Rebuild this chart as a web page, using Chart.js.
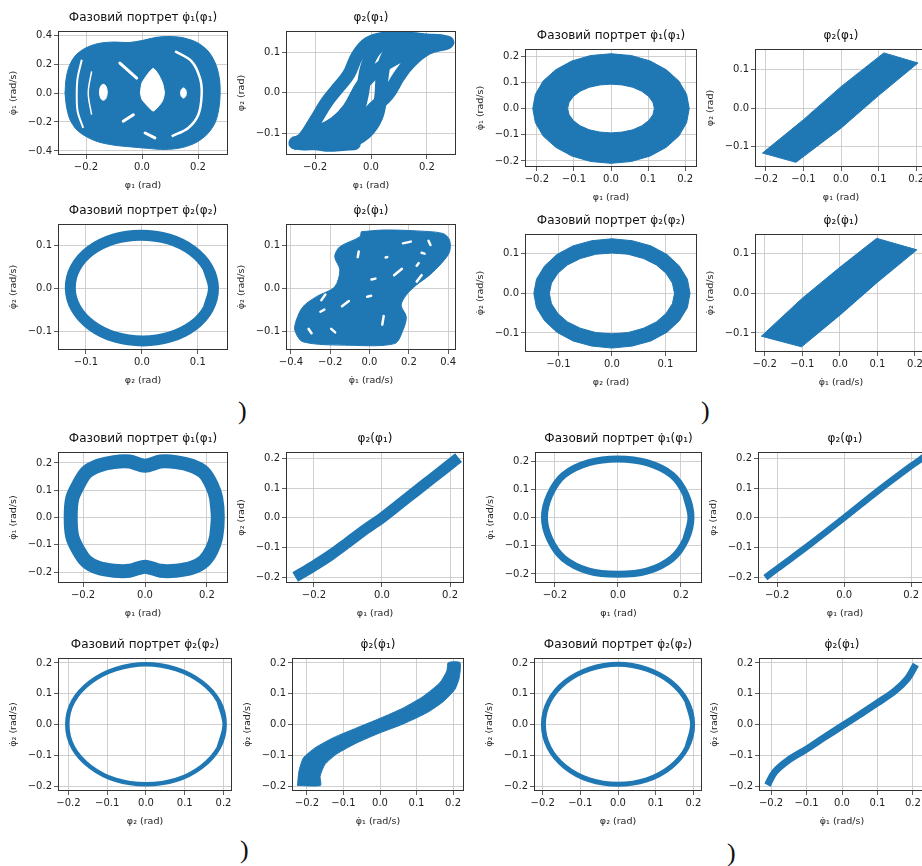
<!DOCTYPE html>
<html>
<head>
<meta charset="utf-8">
<script src="https://cdn.jsdelivr.net/npm/chart.js@4.4.1/dist/chart.umd.min.js"></script>
<style>
  html, body { margin: 0; padding: 0; background: #fff; width: 922px; height: 866px; overflow: hidden; position: relative; }
  canvas { position: absolute; }
  .tag { position: absolute; font-family: "Liberation Serif", serif; font-size: 26px; line-height: 1; color: #111; }
</style>
</head>
<body>
<div class="tag" style="left:238px;top:398px">)</div>
<div class="tag" style="left:701px;top:398px">)</div>
<div class="tag" style="left:240px;top:837px">)</div>
<div class="tag" style="left:727px;top:840px">)</div>
<script>
Chart.defaults.font.family = '"DejaVu Sans", sans-serif';
const BLUE = '#1f77b4';
const WHITE = '#ffffff';

// tick values
const ticksWide = [-0.4, -0.2, 0, 0.2, 0.4];
const ticksTwo = [-0.2, 0, 0.2];
const ticksFive = [-0.2, -0.1, 0, 0.1, 0.2];
const ticksTenth = [-0.1, 0, 0.1];

// titles and axis labels
const titlePortrait1 = 'Фазовий портрет φ\u0307\u2081(φ\u2081)';
const titlePortrait2 = 'Фазовий портрет φ\u0307\u2082(φ\u2082)';
const titleAngles = 'φ\u2082(φ\u2081)';
const titleRates = 'φ\u0307\u2082(φ\u0307\u2081)';
const labPhi1 = 'φ\u2081 (rad)';
const labPhi2 = 'φ\u2082 (rad)';
const labRate1 = 'φ\u0307\u2081 (rad/s)';
const labRate2 = 'φ\u0307\u2082 (rad/s)';

// ---- panel a: chaotic motion ----
const a1Hull = [[-0.275,0],[-0.271,0.1],[-0.259,0.19],[-0.236,0.262],[-0.2,0.312],[-0.155,0.342],[-0.1,0.352],[-0.05,0.348],[0.0,0.362],[0.05,0.384],[0.1,0.39],[0.15,0.38],[0.2,0.345],[0.24,0.28],[0.265,0.19],[0.277,0.09],[0.279,0],[0.275,-0.1],[0.262,-0.2],[0.235,-0.28],[0.195,-0.34],[0.14,-0.378],[0.08,-0.39],[0.02,-0.382],[-0.04,-0.372],[-0.1,-0.36],[-0.155,-0.338],[-0.2,-0.3],[-0.235,-0.25],[-0.258,-0.18],[-0.27,-0.09],[-0.275,0]];
const a1HoleLeft = [[-0.124,0.005],[-0.126,0.033],[-0.131,0.053],[-0.138,0.06],[-0.145,0.053],[-0.15,0.033],[-0.152,0.005],[-0.15,-0.023],[-0.145,-0.043],[-0.138,-0.05],[-0.131,-0.043],[-0.126,-0.023],[-0.124,0.005]];
const a1HoleRight = [[0.158,0],[0.157,0.018],[0.153,0.03],[0.148,0.035],[0.143,0.03],[0.139,0.018],[0.138,0],[0.139,-0.018],[0.143,-0.03],[0.148,-0.035],[0.153,-0.03],[0.157,-0.018],[0.158,0]];
const a1Lens = [[-0.006,0.0],[0.0,0.07],[0.02,0.13],[0.04,0.17],[0.058,0.13],[0.073,0.07],[0.08,0.0],[0.073,-0.055],[0.058,-0.095],[0.04,-0.125],[0.02,-0.09],[0.0,-0.045],[-0.006,0.0]];
const a1ArcOuter = [[-0.215,0.23],[-0.23,0.103],[-0.233,0],[-0.23,-0.126],[-0.21,-0.241]];
const a1ArcInner = [[-0.18,0.15],[-0.192,0],[-0.18,-0.15]];
const a1ArcRight = [[0.118,0.288],[0.177,0.219],[0.207,0.103],[0.213,-0.012],[0.201,-0.15],[0.165,-0.241],[0.106,-0.299]];
const a1Wedges = [[-0.079,0.207,-0.019,0.103],[-0.067,-0.195,-0.031,-0.15],[0.011,-0.276,0.046,-0.31]];

const a2LumpLow = [[-0.272,-0.124],[-0.24,-0.127],[-0.2,-0.126],[-0.15,-0.13],[-0.1,-0.128],[-0.06,-0.126]];
const a2LumpHigh = [[0.08,0.136],[0.14,0.134],[0.2,0.13],[0.25,0.128],[0.275,0.124]];
const a2Strands = [
  [[-0.27,-0.125],[-0.24,-0.112],[-0.2,-0.07],[-0.16,-0.025],[-0.12,0.01],[-0.08,0.045],[-0.05,0.09],[-0.01,0.122],[0.05,0.135],[0.12,0.138]],
  [[-0.15,-0.128],[-0.09,-0.11],[-0.04,-0.08],[0.0,-0.045],[0.06,-0.005],[0.1,0.04],[0.14,0.075],[0.2,0.108],[0.27,0.122]],
  [[-0.22,-0.12],[-0.15,-0.11],[-0.09,-0.09],[-0.05,-0.05],[-0.03,0.0],[-0.02,0.05],[0.0,0.09],[0.03,0.115],[0.08,0.13]],
  [[-0.08,-0.125],[-0.02,-0.1],[0.02,-0.06],[0.035,-0.01],[0.04,0.04],[0.055,0.085],[0.09,0.115],[0.15,0.13]],
  [[-0.2,-0.1],[-0.13,-0.075],[-0.08,-0.04],[-0.03,0.02],[0.03,0.06],[0.09,0.085],[0.15,0.105],[0.22,0.12]]
];

const a3Ring = [[0.128,0],[0.118,0.047],[0.09,0.087],[0.048,0.114],[-0.002,0.123],[-0.05,0.114],[-0.092,0.087],[-0.119,0.047],[-0.128,0],[-0.118,-0.047],[-0.09,-0.087],[-0.048,-0.114],[0.002,-0.123],[0.05,-0.114],[0.092,-0.087],[0.119,-0.047],[0.128,0]];

const a4Hull = [[-0.042,0.131],[0.069,0.135],[0.238,0.133],[0.373,0.127],[0.407,0.112],[0.407,0.084],[0.365,0.057],[0.305,0.03],[0.238,0.007],[0.187,-0.016],[0.161,-0.04],[0.187,-0.067],[0.17,-0.098],[0.128,-0.129],[-0.1,-0.133],[-0.338,-0.125],[-0.38,-0.098],[-0.372,-0.074],[-0.338,-0.043],[-0.27,-0.02],[-0.177,0.003],[-0.151,0.042],[-0.177,0.073],[-0.151,0.096],[-0.05,0.119],[-0.042,0.131]];
const a4Gaps = [[0.17,0.104,0.21,0.108],[0.3,0.11,0.31,0.1],[0.265,0.082,0.28,0.08],[-0.06,0.072,-0.055,0.085],[0.082,0.071,0.09,0.072],[0.125,0.03,0.165,0.045],[0.24,0.052,0.25,0.058],[0.24,0.015,0.265,0.03],[0.01,0.02,0.03,0.022],[-0.012,-0.02,0.008,-0.018],[-0.14,-0.042,-0.105,-0.03],[-0.245,-0.028,-0.225,-0.015],[-0.25,-0.055,-0.23,-0.05],[0.065,-0.085,0.072,-0.065],[-0.31,-0.095,-0.295,-0.105],[-0.195,-0.095,-0.175,-0.103]];

// ---- panel b: quasi-periodic motion ----
const b1Outer = [[0.211,0],[0.204,0.054],[0.183,0.105],[0.149,0.148],[0.106,0.181],[0.055,0.202],[0,0.209],[-0.055,0.202],[-0.106,0.181],[-0.149,0.148],[-0.183,0.105],[-0.204,0.054],[-0.211,0],[-0.204,-0.054],[-0.183,-0.105],[-0.149,-0.148],[-0.106,-0.181],[-0.055,-0.202],[0,-0.209],[0.055,-0.202],[0.106,-0.181],[0.149,-0.148],[0.183,-0.105],[0.204,-0.054],[0.211,0]];
const b1Inner = [[0.117,0],[0.113,0.024],[0.101,0.047],[0.083,0.066],[0.059,0.081],[0.03,0.09],[0,0.093],[-0.03,0.09],[-0.059,0.081],[-0.083,0.066],[-0.101,0.047],[-0.113,0.024],[-0.117,0],[-0.113,-0.024],[-0.101,-0.047],[-0.083,-0.066],[-0.059,-0.081],[-0.03,-0.09],[0,-0.093],[0.03,-0.09],[0.059,-0.081],[0.083,-0.066],[0.101,-0.047],[0.113,-0.024],[0.117,0]];
const b2Band = [[-0.209,-0.116],[-0.1,-0.03],[0.0,0.055],[0.114,0.142],[0.205,0.116],[0.1,0.032],[0.0,-0.052],[-0.12,-0.14],[-0.209,-0.116]];
const b3Outer = [[0.146,0],[0.141,0.036],[0.126,0.069],[0.103,0.098],[0.073,0.12],[0.038,0.133],[0,0.138],[-0.038,0.133],[-0.073,0.12],[-0.103,0.098],[-0.126,0.069],[-0.141,0.036],[-0.146,0],[-0.141,-0.036],[-0.126,-0.069],[-0.103,-0.098],[-0.073,-0.12],[-0.038,-0.133],[0,-0.138],[0.038,-0.133],[0.073,-0.12],[0.103,-0.098],[0.126,-0.069],[0.141,-0.036],[0.146,0]];
const b3Inner = [[0.117,0],[0.113,0.026],[0.101,0.051],[0.083,0.072],[0.059,0.088],[0.03,0.099],[0,0.102],[-0.03,0.099],[-0.059,0.088],[-0.083,0.072],[-0.101,0.051],[-0.113,0.026],[-0.117,0],[-0.113,-0.026],[-0.101,-0.051],[-0.083,-0.072],[-0.059,-0.088],[-0.03,-0.099],[0,-0.102],[0.03,-0.099],[0.059,-0.088],[0.083,-0.072],[0.101,-0.051],[0.113,-0.026],[0.117,0]];
const b4Band = [[-0.209,-0.108],[-0.1,-0.012],[0.0,0.066],[0.098,0.139],[0.205,0.11],[0.1,0.028],[0.0,-0.055],[-0.102,-0.135],[-0.209,-0.108]];

// ---- panel c ----
const c1Loop = [[0.235,0],[0.23,0.07],[0.215,0.12],[0.19,0.165],[0.15,0.19],[0.1,0.203],[0.05,0.205],[0.0,0.19],[-0.05,0.205],[-0.1,0.203],[-0.15,0.19],[-0.19,0.165],[-0.215,0.12],[-0.235,0.07],[-0.24,0],[-0.235,-0.07],[-0.215,-0.12],[-0.19,-0.16],[-0.15,-0.185],[-0.1,-0.195],[-0.05,-0.195],[0,-0.18],[0.05,-0.195],[0.1,-0.195],[0.15,-0.185],[0.19,-0.16],[0.215,-0.12],[0.23,-0.07],[0.235,0]];
const c2Curve = [[-0.255,-0.2],[-0.2,-0.162],[-0.15,-0.125],[-0.1,-0.083],[-0.05,-0.04],[0,0],[0.05,0.045],[0.1,0.09],[0.15,0.135],[0.2,0.18],[0.225,0.203]];
const c3Ring = [[0.203,0],[0.188,0.075],[0.143,0.138],[0.078,0.18],[0,0.196],[-0.078,0.18],[-0.143,0.138],[-0.188,0.075],[-0.203,0],[-0.188,-0.075],[-0.143,-0.138],[-0.078,-0.18],[0,-0.194],[0.078,-0.18],[0.143,-0.138],[0.188,-0.075],[0.203,0]];
const c4Band = [[-0.226,-0.198],[-0.222,-0.152],[-0.21,-0.109],[-0.178,-0.076],[-0.128,-0.043],[-0.064,-0.011],[0,0.02],[0.064,0.054],[0.119,0.092],[0.164,0.136],[0.183,0.174],[0.187,0.201],[0.219,0.201],[0.217,0.152],[0.205,0.114],[0.173,0.074],[0.128,0.038],[0.064,0.002],[0,-0.027],[-0.064,-0.06],[-0.119,-0.096],[-0.151,-0.13],[-0.164,-0.168],[-0.163,-0.198],[-0.226,-0.198]];

// ---- panel d ----
const d1Loop = [[0.232,0],[0.216,0.08],[0.172,0.15],[0.092,0.194],[0,0.207],[-0.092,0.194],[-0.172,0.15],[-0.216,0.08],[-0.233,0],[-0.216,-0.077],[-0.172,-0.145],[-0.092,-0.19],[0,-0.201],[0.092,-0.19],[0.172,-0.145],[0.216,-0.077],[0.232,0]];
const d2Line = [[-0.235,-0.202],[-0.2,-0.172],[-0.1,-0.088],[0,0],[0.1,0.09],[0.2,0.175],[0.238,0.205]];
const d3Ring = [[0.198,0],[0.183,0.075],[0.14,0.138],[0.076,0.18],[0,0.196],[-0.076,0.18],[-0.14,0.138],[-0.183,0.075],[-0.198,0],[-0.183,-0.075],[-0.14,-0.138],[-0.076,-0.18],[0,-0.194],[0.076,-0.18],[0.14,-0.138],[0.183,-0.075],[0.198,0]];
const d4Curve = [[-0.21,-0.197],[-0.19,-0.155],[-0.15,-0.115],[-0.1,-0.08],[-0.05,-0.042],[0,-0.005],[0.05,0.032],[0.1,0.07],[0.15,0.11],[0.185,0.15],[0.208,0.195]];

// ---- helpers ----
const toXY = pts => pts.map(p => ({ x: p[0], y: p[1] }));
// closed outline: repeat one neighbour on each side so the spline has no corner at the seam
const loop = pts => [pts[pts.length - 2]].concat(pts, [pts[1]]);

function stroke(pts, width, color, tension, cap) {
  return {
    data: toXY(pts), showLine: true, borderColor: color || BLUE, borderWidth: width,
    pointRadius: 0, tension: tension === undefined ? 0.35 : tension,
    borderJoinStyle: 'round', borderCapStyle: cap || 'butt', fill: false
  };
}

function solid(pts, color, tension) {
  return {
    data: toXY(pts), showLine: true, borderColor: color || BLUE, backgroundColor: color || BLUE,
    borderWidth: 1, pointRadius: 0, tension: tension || 0, fill: 'shape'
  };
}

// ring between two closed outlines: outer one way, inner back the other way
const ring = (outer, inner) => outer.concat(inner.slice().reverse(), [outer[0]]);

const dash = (g, w) => stroke([[g[0], g[1]], [g[2], g[3]]], w, WHITE, 0, 'round');

const panels = [
  { box: [58, 31, 228, 155], x: [-0.30, 0.307], y: [-0.428, 0.428], xt: ticksTwo, yt: ticksWide,
    title: titlePortrait1, xl: labPhi1, yl: labRate1,
    sets: [solid(a1Hull, BLUE, 0.3), solid(a1HoleLeft, WHITE, 0.3), solid(a1HoleRight, WHITE, 0.3),
           solid(a1Lens, WHITE, 0.2), stroke(a1ArcOuter, 2, WHITE), stroke(a1ArcInner, 1.5, WHITE),
           stroke(a1ArcRight, 2.5, WHITE)].concat(a1Wedges.map(g => dash(g, 3))) },
  { box: [286, 31, 456, 155], x: [-0.304, 0.304], y: [-0.154, 0.152], xt: ticksTwo, yt: ticksTenth,
    title: titleAngles, xl: labPhi1, yl: labPhi2,
    sets: [stroke(a2LumpLow, 13, BLUE, 0.3, 'round'), stroke(a2LumpHigh, 13, BLUE, 0.3, 'round')]
          .concat(a2Strands.map(s => stroke(s, 13, BLUE, 0.4, 'round'))) },
  { box: [58, 224, 228, 350], x: [-0.15, 0.154], y: [-0.144, 0.149], xt: ticksTenth, yt: ticksTenth,
    title: titlePortrait2, xl: labPhi2, yl: labRate2,
    sets: [stroke(loop(a3Ring), 11)] },
  { box: [286, 224, 456, 350], x: [-0.425, 0.44], y: [-0.144, 0.149], xt: ticksWide, yt: ticksTenth,
    title: titleRates, xl: labRate1, yl: labRate2,
    sets: [solid(a4Hull, BLUE, 0.3)].concat(a4Gaps.map(g => dash(g, 2.5))) },

  { box: [525, 49, 697, 167], x: [-0.232, 0.232], y: [-0.223, 0.227], xt: ticksFive, yt: ticksFive,
    title: titlePortrait1, xl: labPhi1, yl: labRate1,
    sets: [solid(ring(b1Outer, b1Inner))] },
  { box: [755, 49, 927, 167], x: [-0.229, 0.229], y: [-0.152, 0.152], xt: ticksFive, yt: ticksTenth,
    title: titleAngles, xl: labPhi1, yl: labPhi2,
    sets: [solid(b2Band)] },
  { box: [525, 234, 697, 352], x: [-0.1625, 0.159], y: [-0.148, 0.15], xt: ticksTenth, yt: ticksTenth,
    title: titlePortrait2, xl: labPhi2, yl: labRate2,
    sets: [solid(ring(b3Outer, b3Inner))] },
  { box: [755, 234, 927, 352], x: [-0.226, 0.232], y: [-0.148, 0.15], xt: ticksFive, yt: ticksTenth,
    title: titleRates, xl: labRate1, yl: labRate2,
    sets: [solid(b4Band)] },

  { box: [58, 452, 228, 583], x: [-0.281, 0.268], y: [-0.24, 0.24], xt: ticksTwo, yt: ticksFive,
    title: titlePortrait1, xl: labPhi1, yl: labRate1,
    sets: [stroke(loop(c1Loop), 14, BLUE, 0.3)] },
  { box: [286, 452, 464, 583], x: [-0.282, 0.241], y: [-0.22, 0.222], xt: ticksTwo, yt: ticksFive,
    title: titleAngles, xl: labPhi1, yl: labPhi2,
    sets: [stroke(c2Curve, 11, BLUE, 0.3)] },
  { box: [58, 658, 232, 791], x: [-0.227, 0.222], y: [-0.216, 0.216], xt: ticksFive, yt: ticksFive,
    title: titlePortrait2, xl: labPhi2, yl: labRate2,
    sets: [stroke(loop(c3Ring), 4.5)] },
  { box: [292, 658, 464, 791], x: [-0.241, 0.23], y: [-0.216, 0.216], xt: ticksFive, yt: ticksFive,
    title: titleRates, xl: labRate1, yl: labRate2,
    sets: [solid(c4Band, BLUE, 0.2)] },

  { box: [535, 452, 702, 583], x: [-0.263, 0.267], y: [-0.232, 0.232], xt: ticksTwo, yt: ticksFive,
    title: titlePortrait1, xl: labPhi1, yl: labRate1,
    sets: [stroke(loop(d1Loop), 7, BLUE, 0.35)] },
  { box: [758, 452, 932, 583], x: [-0.257, 0.262], y: [-0.22, 0.222], xt: ticksTwo, yt: ticksFive,
    title: titleAngles, xl: labPhi1, yl: labPhi2,
    sets: [stroke(d2Line, 6.5, BLUE, 0.3)] },
  { box: [534, 658, 702, 791], x: [-0.223, 0.223], y: [-0.216, 0.216], xt: ticksFive, yt: ticksFive,
    title: titlePortrait2, xl: labPhi2, yl: labRate2,
    sets: [stroke(loop(d3Ring), 5)] },
  { box: [759, 658, 925, 791], x: [-0.234, 0.234], y: [-0.216, 0.216], xt: ticksFive, yt: ticksFive,
    title: titleRates, xl: labRate1, yl: labRate2,
    sets: [stroke(d4Curve, 7, BLUE, 0.35)] }
];

// fixed room around each plot area
const YW = 50, TP = 26, RP = 4, XH = 36;
const fmt = v => (Math.abs(v) < 1e-9 ? '0.0' : v.toFixed(1).replace('-', '\u2212'));

function axis(range, ticks, label, pos) {
  return {
    type: 'linear', position: pos, min: range[0], max: range[1],
    afterBuildTicks: s => { s.ticks = ticks.map(v => ({ value: v })); },
    afterFit: s => {
      if (pos === 'left') s.width = YW; else s.height = XH;
      s.paddingLeft = s.paddingRight = s.paddingTop = s.paddingBottom = 0;
    },
    grid: { color: '#c4c4c4', lineWidth: 0.8, tickColor: '#333', tickLength: 4, drawTicks: true },
    border: { display: false },
    ticks: { font: { size: 10 }, color: '#222', padding: 2, autoSkip: false, maxRotation: 0, callback: v => fmt(v) },
    title: { display: true, text: label, font: { size: 9.5 }, color: '#222', padding: 0 }
  };
}

panels.forEach(p => {
  const [l, t, r, b] = p.box;
  const cv = document.createElement('canvas');
  cv.width = r - l + YW + RP;
  cv.height = b - t + TP + XH;
  cv.style.left = (l - YW) + 'px';
  cv.style.top = (t - TP) + 'px';
  document.body.appendChild(cv);

  // first listed set is painted first
  const sets = p.sets.map((d, i, all) => Object.assign(d, { order: all.length - i }));

  const frame = {
    id: 'frame',
    afterDatasetsDraw(chart) {
      const a = chart.chartArea, ctx = chart.ctx;
      ctx.save();
      ctx.strokeStyle = '#333';
      ctx.lineWidth = 1;
      ctx.strokeRect(Math.round(a.left) + 0.5, Math.round(a.top) + 0.5,
                     Math.round(a.right - a.left) - 1, Math.round(a.bottom - a.top) - 1);
      ctx.fillStyle = '#111';
      ctx.font = '12px "DejaVu Sans"';
      ctx.textAlign = 'center';
      ctx.textBaseline = 'middle';
      ctx.fillText(p.title, (a.left + a.right) / 2, a.top - 13);
      ctx.restore();
    }
  };

  new Chart(cv, {
    type: 'scatter',
    data: { datasets: sets },
    options: {
      responsive: false, animation: false, events: [],
      layout: { padding: { top: TP, right: RP, left: 0, bottom: 0 } },
      plugins: { legend: { display: false }, tooltip: { enabled: false } },
      scales: { x: axis(p.x, p.xt, p.xl, 'bottom'), y: axis(p.y, p.yt, p.yl, 'left') }
    },
    plugins: [frame]
  });
});
</script>
</body>
</html>
